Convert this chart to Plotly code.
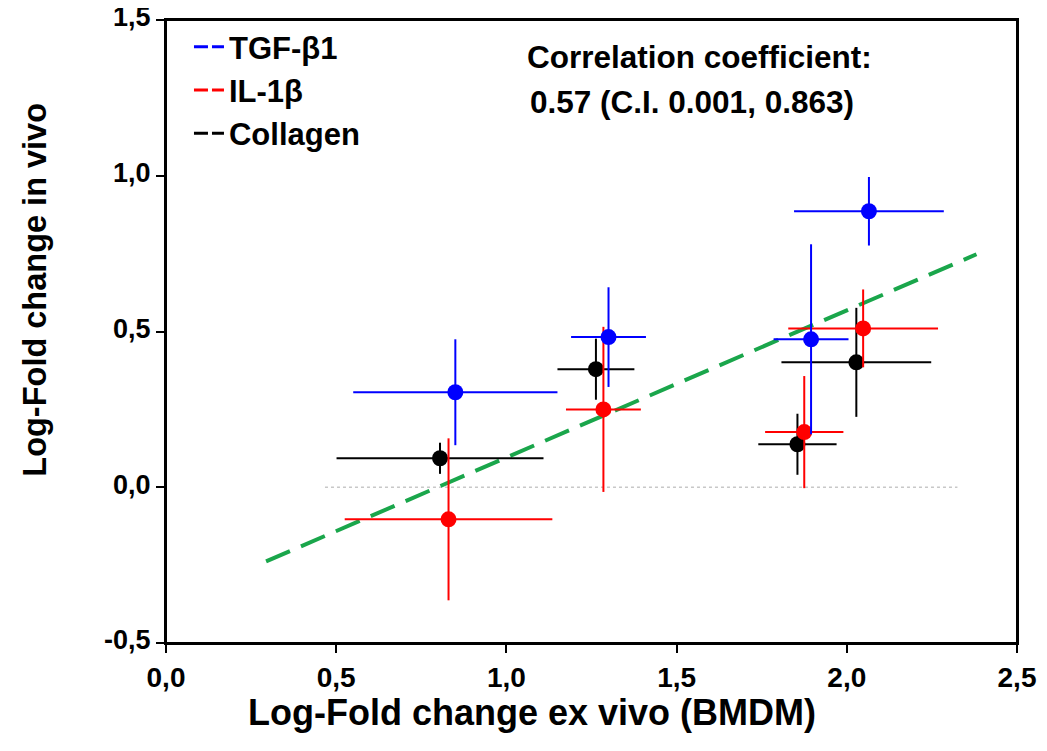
import plotly.graph_objects as go

# ---- data ----
tgf_x = [0.85, 1.30, 1.895, 2.065]
tgf_y = [0.305, 0.482, 0.475, 0.886]
tgf_xerr = [0.30, 0.11, 0.11, 0.22]
tgf_yerr = [0.17, 0.16, 0.305, 0.11]

il_x = [0.83, 1.285, 1.875, 2.048]
il_y = [-0.103, 0.250, 0.177, 0.510]
il_xerr = [0.305, 0.11, 0.115, 0.22]
il_yerr = [0.26, 0.265, 0.18, 0.125]

col_x = [0.805, 1.263, 1.855, 2.028]
col_y = [0.093, 0.379, 0.138, 0.401]
col_xerr = [0.304, 0.113, 0.115, 0.22]
col_yerr = [0.05, 0.098, 0.098, 0.175]

fit_x = [0.294, 2.381]
fit_y = [-0.238, 0.748]

zero_x = [0.467, 2.325]
zero_y = [0.0, 0.0]

series_names = ["TGF-β1", "IL-1β", "Collagen"]
series_colors = ["#0000ff", "#ff0000", "#000000"]

x_tickvals = [0.0, 0.5, 1.0, 1.5, 2.0, 2.5]
x_ticktext = ["0,0", "0,5", "1,0", "1,5", "2,0", "2,5"]
y_tickvals = [-0.5, 0.0, 0.5, 1.0, 1.5]
y_ticktext = ["-0,5", "0,0", "0,5", "1,0", "1,5"]

x_title = "Log-Fold change ex vivo (BMDM)"
y_title = "Log-Fold change in vivo"

corr_lines = ["Correlation coefficient:", "0.57 (C.I. 0.001, 0.863)"]
corr_x = [1.567, 1.546]
corr_y = [1.380, 1.236]

FONT = "Liberation Sans, Arial, sans-serif"

fig = go.Figure()

# zero reference dotted line
fig.add_trace(go.Scatter(x=zero_x, y=zero_y, mode="lines",
                         line=dict(color="#c8c8c8", width=1.5, dash="dot"),
                         showlegend=False, hoverinfo="skip"))

# regression line
fig.add_trace(go.Scatter(x=fit_x, y=fit_y, mode="lines",
                         line=dict(color="#1aa64b", width=4, dash="26px,12px"),
                         showlegend=False, hoverinfo="skip"))

data = [
    (col_x, col_y, col_xerr, col_yerr, 2),
    (il_x, il_y, il_xerr, il_yerr, 1),
    (tgf_x, tgf_y, tgf_xerr, tgf_yerr, 0),
]
for xs, ys, xe, ye, idx in data:
    c = series_colors[idx]
    fig.add_trace(go.Scatter(
        x=xs, y=ys, mode="markers",
        marker=dict(color=c, size=16, symbol="circle", line=dict(width=0)),
        error_x=dict(type="data", array=xe, visible=True, color=c, thickness=2, width=0),
        error_y=dict(type="data", array=ye, visible=True, color=c, thickness=2, width=0),
        showlegend=False, name=series_names[idx]))

# legend entries
for name, c in zip(series_names, series_colors):
    fig.add_trace(go.Scatter(x=[None], y=[None], mode="lines", name="<b>%s</b>" % name,
                             line=dict(color=c, width=3, dash="14px,4px")))

for t, ax_, ay_ in zip(corr_lines, corr_x, corr_y):
    fig.add_annotation(x=ax_, y=ay_, xref="x", yref="y",
                       text="<b>%s</b>" % t, showarrow=False,
                       font=dict(family=FONT, size=31.5, color="black"),
                       xanchor="center", yanchor="middle")

# axis titles (placed as annotations; the reference centres them off-axis)
fig.add_annotation(x=0.430, y=-0.111, xref="paper", yref="paper",
                   text="<b>%s</b>" % x_title, showarrow=False,
                   font=dict(family=FONT, size=36, color="black"),
                   xanchor="center", yanchor="middle")
fig.add_annotation(x=-0.154, y=0.567, xref="paper", yref="paper",
                   text="<b>%s</b>" % y_title, showarrow=False, textangle=-90,
                   font=dict(family=FONT, size=32.5, color="black"),
                   xanchor="center", yanchor="middle")

# plot frame
fig.add_shape(type="rect", xref="paper", yref="paper", x0=0, y0=0, x1=1, y1=1,
              line=dict(color="black", width=2), fillcolor="rgba(0,0,0,0)", layer="above")

fig.update_layout(
    width=1039, height=743,
    margin=dict(l=158, r=30, t=12, b=108),
    paper_bgcolor="white", plot_bgcolor="white",
    font=dict(family=FONT, color="black"),
    legend=dict(x=0.027, y=1.0, xanchor="left", yanchor="top",
                bgcolor="rgba(0,0,0,0)", font=dict(size=31, family=FONT),
                itemwidth=30, tracegroupgap=0),
    xaxis=dict(range=[0, 2.5], tickvals=x_tickvals,
               ticktext=["<b>%s</b>" % t for t in x_ticktext],
               showline=True, linecolor="black", linewidth=2, mirror=True,
               ticks="outside", ticklen=8, tickwidth=2, tickcolor="black",
               showgrid=False, zeroline=False, automargin=False,
               ticklabeloverflow="allow",
               tickfont=dict(size=28, family=FONT)),
    yaxis=dict(range=[-0.5, 1.5], tickvals=y_tickvals,
               ticktext=["<b>%s</b>" % t for t in y_ticktext],
               showline=True, linecolor="black", linewidth=2, mirror=True,
               ticks="outside", ticklen=8, tickwidth=2, tickcolor="black",
               showgrid=False, zeroline=False, automargin=False,
               ticklabeloverflow="allow", ticklabelshift=-3,
               tickfont=dict(size=27, family=FONT)),
)

fig.write_html("out.html")
